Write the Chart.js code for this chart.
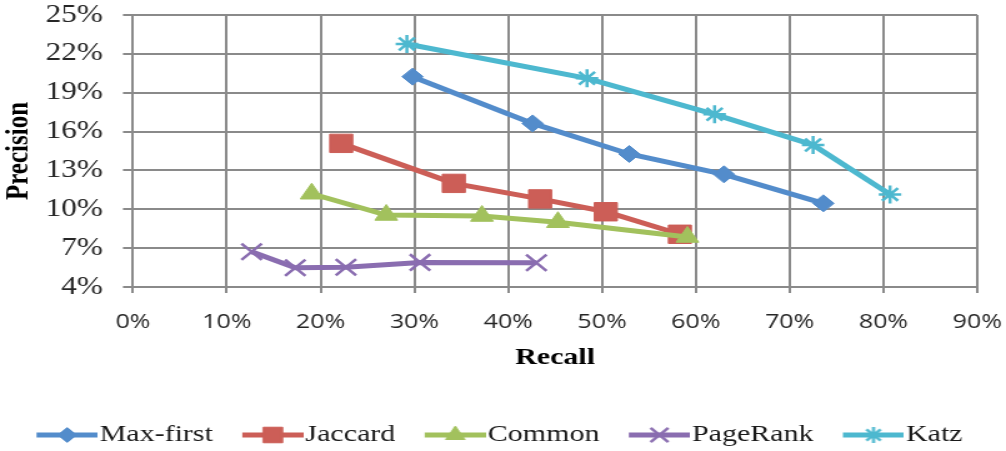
<!DOCTYPE html>
<html>
<head>
<meta charset="utf-8">
<script src="https://cdn.jsdelivr.net/npm/chart.js"></script>
<style>
  html, body { margin: 0; padding: 0; background: #ffffff; overflow: hidden; }
  #chart { display: block; }
</style>
</head>
<body>
<!-- drawn at 805px wide, shown widened to the page width -->
<canvas id="chart" width="805" height="451" style="width:1006px;height:451px;"></canvas>
<script>
// Recall (%) and precision (%) per method
const seriesNames = ['Max-first', 'Jaccard', 'Common', 'PageRank', 'Katz'];

const maxFirstRecall    = [29.8, 42.6, 52.9, 63.0, 73.6];
const maxFirstPrecision = [20.24, 16.63, 14.27, 12.7, 10.46];

const jaccardRecall     = [22.2, 34.2, 43.4, 50.4, 58.3];
const jaccardPrecision  = [15.09, 12.0, 10.8, 9.81, 8.07];

const commonRecall      = [19.05, 27.0, 37.2, 45.3, 59.1];
const commonPrecision   = [11.2, 9.56, 9.48, 9.0, 7.86];

const pageRankRecall    = [12.65, 17.3, 22.7, 30.6, 43.0];
const pageRankPrecision = [6.72, 5.49, 5.52, 5.9, 5.87];

const katzRecall        = [29.2, 48.4, 62.0, 72.5, 80.7];
const katzPrecision     = [22.76, 20.11, 17.33, 14.96, 11.15];

// Axis tick values
const recallTicks    = [0, 10, 20, 30, 40, 50, 60, 70, 80, 90];
const precisionTicks = [4, 7, 10, 13, 16, 19, 22, 25];

const colors  = ['#538CCB', '#CC5E57', '#A2C15D', '#8A6DB0', '#4DB8CF'];
const markers = ['rectRot', 'rect', 'triangle', 'crossRot', 'star'];
const markerRadius = [8.5, 13, 10.5, 11.5, 9];
const markerBorder = [1, 1, 1, 2.5, 2.5];
const legendRadius = [7.5, 11, 9, 10, 8];

const recallSets = [maxFirstRecall, jaccardRecall, commonRecall, pageRankRecall, katzRecall];
const precisionSets = [maxFirstPrecision, jaccardPrecision, commonPrecision, pageRankPrecision, katzPrecision];

function toPoints(xs, ys) {
  return xs.map((x, i) => ({ x: x, y: ys[i] }));
}

// Legend sample: a short line with the series marker on it
function legendSample(i) {
  const c = document.createElement('canvas');
  c.width = 77;
  c.height = 26;
  const g = c.getContext('2d');
  const lineStart = 28, lineEnd = 77, cy = 13;
  g.strokeStyle = colors[i];
  g.fillStyle = colors[i];
  g.lineWidth = 5;
  g.beginPath();
  g.moveTo(lineStart, cy);
  g.lineTo(lineEnd, cy);
  g.stroke();
  g.lineWidth = markerBorder[i];
  Chart.helpers.drawPoint(g, {
    pointStyle: markers[i],
    radius: legendRadius[i],
    rotation: 0,
    borderWidth: markerBorder[i]
  }, (lineStart + lineEnd) / 2, cy);
  return c;
}

const gridColor = '#8a8a8a';

const datasets = seriesNames.map((name, i) => ({
  label: name,
  data: toPoints(recallSets[i], precisionSets[i]),
  borderColor: colors[i],
  backgroundColor: colors[i],
  borderWidth: 5,
  tension: 0,
  pointStyle: markers[i],
  pointRadius: markerRadius[i],
  pointBorderWidth: markerBorder[i],
  pointBackgroundColor: colors[i],
  pointBorderColor: colors[i],
  order: seriesNames.length - i
}));

new Chart(document.getElementById('chart'), {
  type: 'line',
  data: { datasets: datasets },
  options: {
    responsive: false,
    animation: false,
    devicePixelRatio: 1,
    layout: { padding: { left: 0, right: 23, top: 15, bottom: -6 } },
    plugins: {
      tooltip: { enabled: false },
      legend: {
        position: 'bottom',
        labels: {
          usePointStyle: true,
          pointStyleWidth: 56,
          padding: 6,
          color: '#1a1a1a',
          font: { family: 'Liberation Serif', size: 24 },
          generateLabels: () => seriesNames.map((name, i) => ({
            text: name,
            fillStyle: colors[i],
            strokeStyle: colors[i],
            lineWidth: 0,
            pointStyle: legendSample(i),
            hidden: false,
            datasetIndex: i,
            fontColor: '#1a1a1a'
          }))
        }
      }
    },
    scales: {
      x: {
        type: 'linear',
        min: recallTicks[0],
        max: recallTicks[recallTicks.length - 1],
        afterBuildTicks: (s) => { s.ticks = recallTicks.map(v => ({ value: v })); },
        afterFit: (s) => {
          s.height = 130;
          s.paddingLeft = 0;
          s.paddingRight = 0;
        },
        grid: { color: gridColor, lineWidth: 2, tickLength: 6, drawTicks: true },
        border: { color: gridColor, width: 2 },
        ticks: {
          padding: 17,
          color: '#262626',
          font: { family: 'Open Sans', size: 20 },
          callback: (v) => v + '%'
        },
        title: {
          display: true,
          text: 'Recall',
          color: '#000000',
          font: { family: 'Liberation Serif', size: 24, weight: 'bold' },
          padding: { top: 0, bottom: 45 }
        }
      },
      y: {
        type: 'linear',
        min: precisionTicks[0],
        max: precisionTicks[precisionTicks.length - 1],
        afterBuildTicks: (s) => { s.ticks = precisionTicks.map(v => ({ value: v })); },
        afterFit: (s) => {
          s.width = 106.4;
          s.paddingTop = 0;
          s.paddingBottom = 0;
        },
        grid: { color: gridColor, lineWidth: 2, tickLength: 8, drawTicks: true },
        border: { color: gridColor, width: 2 },
        ticks: {
          padding: 16,
          color: '#262626',
          font: { family: 'Liberation Serif', size: 25 },
          callback: (v) => v + '%'
        },
        title: {
          display: true,
          text: 'Precision',
          color: '#000000',
          font: { family: 'Liberation Serif', size: 25, weight: 'bold' },
          padding: { top: 1, bottom: 0 }
        }
      }
    }
  }
});
</script>
</body>
</html>
